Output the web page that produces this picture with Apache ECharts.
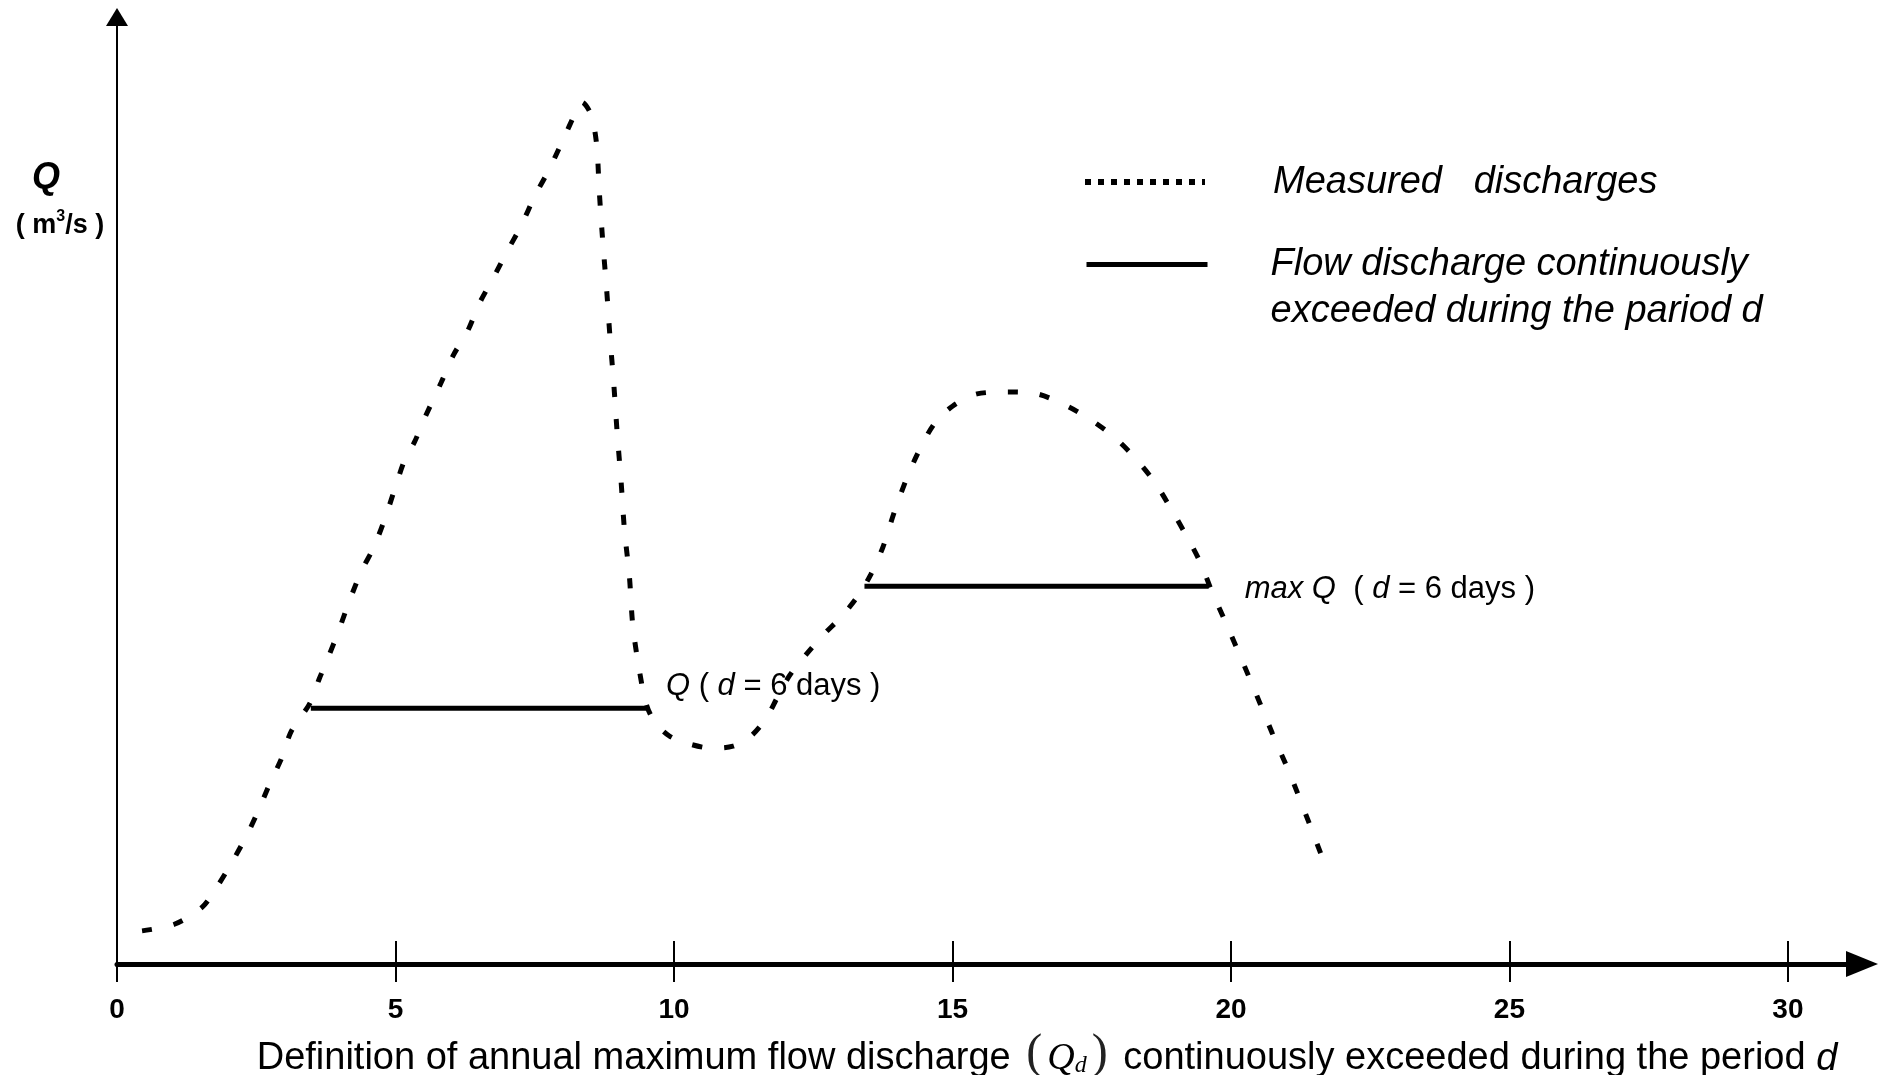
<!DOCTYPE html>
<html><head><meta charset="utf-8">
<script src="https://cdn.jsdelivr.net/npm/echarts@6/dist/echarts.min.js"></script>
<style>html,body{margin:0;padding:0;background:#fff;overflow:hidden}#c{width:1885px;height:1075px}</style>
</head><body><div id="c"></div>
<script>
// ---- data ----
const measuredX = [0.45,1.03,1.53,1.79,2.05,2.33,2.53,2.74,2.96,3.13,3.46,3.63,3.78,3.98,4.17,4.39,4.61,4.82,5.00,5.17,5.34,5.52,5.82,6.04,6.30,6.51,6.77,6.99,7.25,7.51,7.75,7.99,8.25,8.35,8.51,8.61,8.66,8.72,8.79,8.85,8.92,8.98,9.05,9.11,9.20,9.26,9.37,9.50,9.65,9.91,10.24,10.67,11.06,11.37,11.65,11.86,12.08,12.36,12.69,13.01,13.32,13.53,13.75,13.96,14.18,14.40,14.68,15.00,15.44,15.98,16.52,17.06,17.50,17.93,18.30,18.64,18.95,19.23,19.45,19.66,19.88,20.16,20.46,20.74,21.07,21.35,21.61];
const measuredY = [3.5,4.2,6.0,8.1,10.6,13.6,16.1,19.0,21.8,24.6,27.5,30.1,32.2,35.2,38.3,41.5,44.0,47.2,50.4,53.3,55.1,57.6,61.4,64.3,66.9,69.8,72.6,75.1,77.9,81.2,83.8,86.8,90.1,91.0,89.7,86.6,81.5,76.4,71.3,66.3,61.2,56.1,51.0,45.9,40.9,35.8,31.3,27.5,25.6,24.1,23.3,22.8,23.0,24.0,25.9,28.2,30.5,32.6,34.8,36.7,39.0,41.1,44.0,47.8,51.3,54.2,57.1,58.9,60.2,60.4,60.2,58.9,57.4,55.5,53.3,50.8,47.8,44.9,42.4,39.3,36.4,32.6,28.4,24.4,19.9,15.7,11.7];
const periodQX = [3.48, 9.55];
const periodQY = [27.0, 27.0];
const periodMaxX = [13.42, 19.6];
const periodMaxY = [39.9, 39.9];
const xTicks = [0, 5, 10, 15, 20, 25, 30];
const nameMeasured = 'Measured   discharges';
const nameFlow = 'Flow discharge continuously exceeded during the pariod d';
const flowLines = ['Flow discharge continuously', 'exceeded during the pariod d'];
const labelQ = '{i|Q}{n| ( }{i|d}{n| = 6 days )}';
const labelMaxQ = '{i|max Q}{n|  ( }{i|d}{n| = 6 days )}';
const xTitle = '{n|Definition of annual maximum flow discharge }{p|(}{q|Q}{s|d}{p|)}{n| continuously exceeded during the period }{d|d}';

// ---- chart ----
const FONT = "'Liberation Sans', Arial, Helvetica, sans-serif";
const SERIF = "'Liberation Serif', 'Times New Roman', serif";
const pair = (xs, ys) => xs.map((x, i) => [x, ys[i]]);
const annRich = {
  n: {fontFamily: FONT, fontSize: 31, color: '#000'},
  i: {fontFamily: FONT, fontSize: 31, fontStyle: 'italic', color: '#000'}
};
function flowSeries(xs, ys, text, dist, off) {
  const pts = pair(xs, ys);
  const last = pts.pop();
  pts.push({value: last, label: {show: true, position: 'right', distance: dist, offset: off, formatter: text, rich: annRich}});
  return {
    name: nameFlow, type: 'line', data: pts, symbol: 'circle', symbolSize: 0.01, showSymbol: true,
    lineStyle: {color: '#000', width: 5, type: 'solid'}, itemStyle: {color: '#000'}, silent: true, z: 3
  };
}
const chart = echarts.init(document.getElementById('c'), null, {renderer: 'canvas'});
const option = {
  animation: false,
  backgroundColor: '#fff',
  grid: {left: 117, right: 23, top: 17, bottom: 111, containLabel: false, outerBoundsMode: 'none'},
  xAxis: [{
    type: 'value', min: 0, max: 31.33, interval: 5, position: 'bottom',
    axisLine: {show: true, onZero: false, lineStyle: {color: '#000', width: 5}, symbol: ['none', 'triangle'], symbolSize: [26, 32]},
    axisTick: {show: true, inside: false, length: 18, lineStyle: {color: '#000', width: 2}, customValues: xTicks},
    axisLabel: {show: true, margin: 32, color: '#000', fontFamily: FONT, fontWeight: 'bold', fontSize: 28, customValues: xTicks},
    splitLine: {show: false},
    name: xTitle, nameLocation: 'middle', nameGap: 62,
    nameTextStyle: {
      padding: [0, 0, 0, 115],
      rich: {
        n: {fontFamily: FONT, fontSize: 38, color: '#000', lineHeight: 50, verticalAlign: 'bottom'},
        d: {fontFamily: FONT, fontSize: 38, fontStyle: 'italic', color: '#000', lineHeight: 50, verticalAlign: 'bottom'},
        p: {fontFamily: SERIF, fontSize: 48, color: '#222', lineHeight: 52, verticalAlign: 'bottom', padding: [0, 5, 0, 5]},
        q: {fontFamily: SERIF, fontSize: 38, fontStyle: 'italic', color: '#000', lineHeight: 50, verticalAlign: 'bottom'},
        s: {fontFamily: SERIF, fontSize: 24, fontStyle: 'italic', color: '#000', lineHeight: 30, verticalAlign: 'bottom'}
      }
    }
  }, {
    type: 'value', min: 0, max: 31.33, interval: 5, position: 'bottom',
    axisLine: {show: false},
    axisTick: {show: true, inside: true, length: 23, lineStyle: {color: '#000', width: 2}, customValues: xTicks},
    axisLabel: {show: false}, splitLine: {show: false}
  }],
  yAxis: {
    type: 'value', min: 0, max: 100,
    axisLine: {show: true, onZero: false, lineStyle: {color: '#000', width: 2}, symbol: ['none', 'triangle'], symbolSize: [22, 18]},
    axisTick: {show: false}, axisLabel: {show: false}, splitLine: {show: false}
  },
  legend: [{
    data: [{name: nameMeasured, lineStyle: {type: [6, 7], width: 6, color: '#000'}}],
    orient: 'vertical', left: 1082, top: 162, padding: 0, itemWidth: 120, itemHeight: 2,
    itemStyle: {opacity: 0}, selectedMode: false,
    textStyle: {fontFamily: FONT, fontStyle: 'italic', fontSize: 38, color: '#000', lineHeight: 40, padding: [0, 0, 0, 63]}
  }, {
    data: [{name: nameFlow, lineStyle: {type: 'solid', width: 5, color: '#000'}}],
    formatter: () => '\n' + flowLines.join('\n'),
    orient: 'vertical', left: 1084, top: 194, padding: 0, itemWidth: 121, itemHeight: 2,
    itemStyle: {opacity: 0}, selectedMode: false,
    textStyle: {fontFamily: FONT, fontStyle: 'italic', fontSize: 38, color: '#000', lineHeight: 47, padding: [0, 0, 0, 58]}
  }],
  graphic: [
    {type: 'text', x: 46, y: 178, style: {text: 'Q', align: 'center', verticalAlign: 'middle', font: 'italic bold 36px ' + FONT, fill: '#000'}},
    {type: 'text', x: 60, y: 224, style: {
      text: '{n|( m}{s|3}{n|/s )}', align: 'center', verticalAlign: 'middle', fill: '#000',
      rich: {
        n: {fontFamily: FONT, fontWeight: 'bold', fontSize: 27, lineHeight: 30, verticalAlign: 'bottom'},
        s: {fontFamily: FONT, fontWeight: 'bold', fontSize: 16, lineHeight: 16, verticalAlign: 'top'}
      }
    }}
  ],
  series: [
    {
      name: nameMeasured, type: 'line', data: pair(measuredX, measuredY), symbol: 'none', showSymbol: false,
      smooth: 0.3, lineStyle: {color: '#000', width: 5, type: [10, 22], cap: 'butt'}, silent: true, z: 2
    },
    flowSeries(periodQX, periodQY, labelQ, 17, [0, -22]),
    flowSeries(periodMaxX, periodMaxY, labelMaxQ, 36, [0, 3])
  ]
};
chart.setOption(option);
</script>
</body></html>
